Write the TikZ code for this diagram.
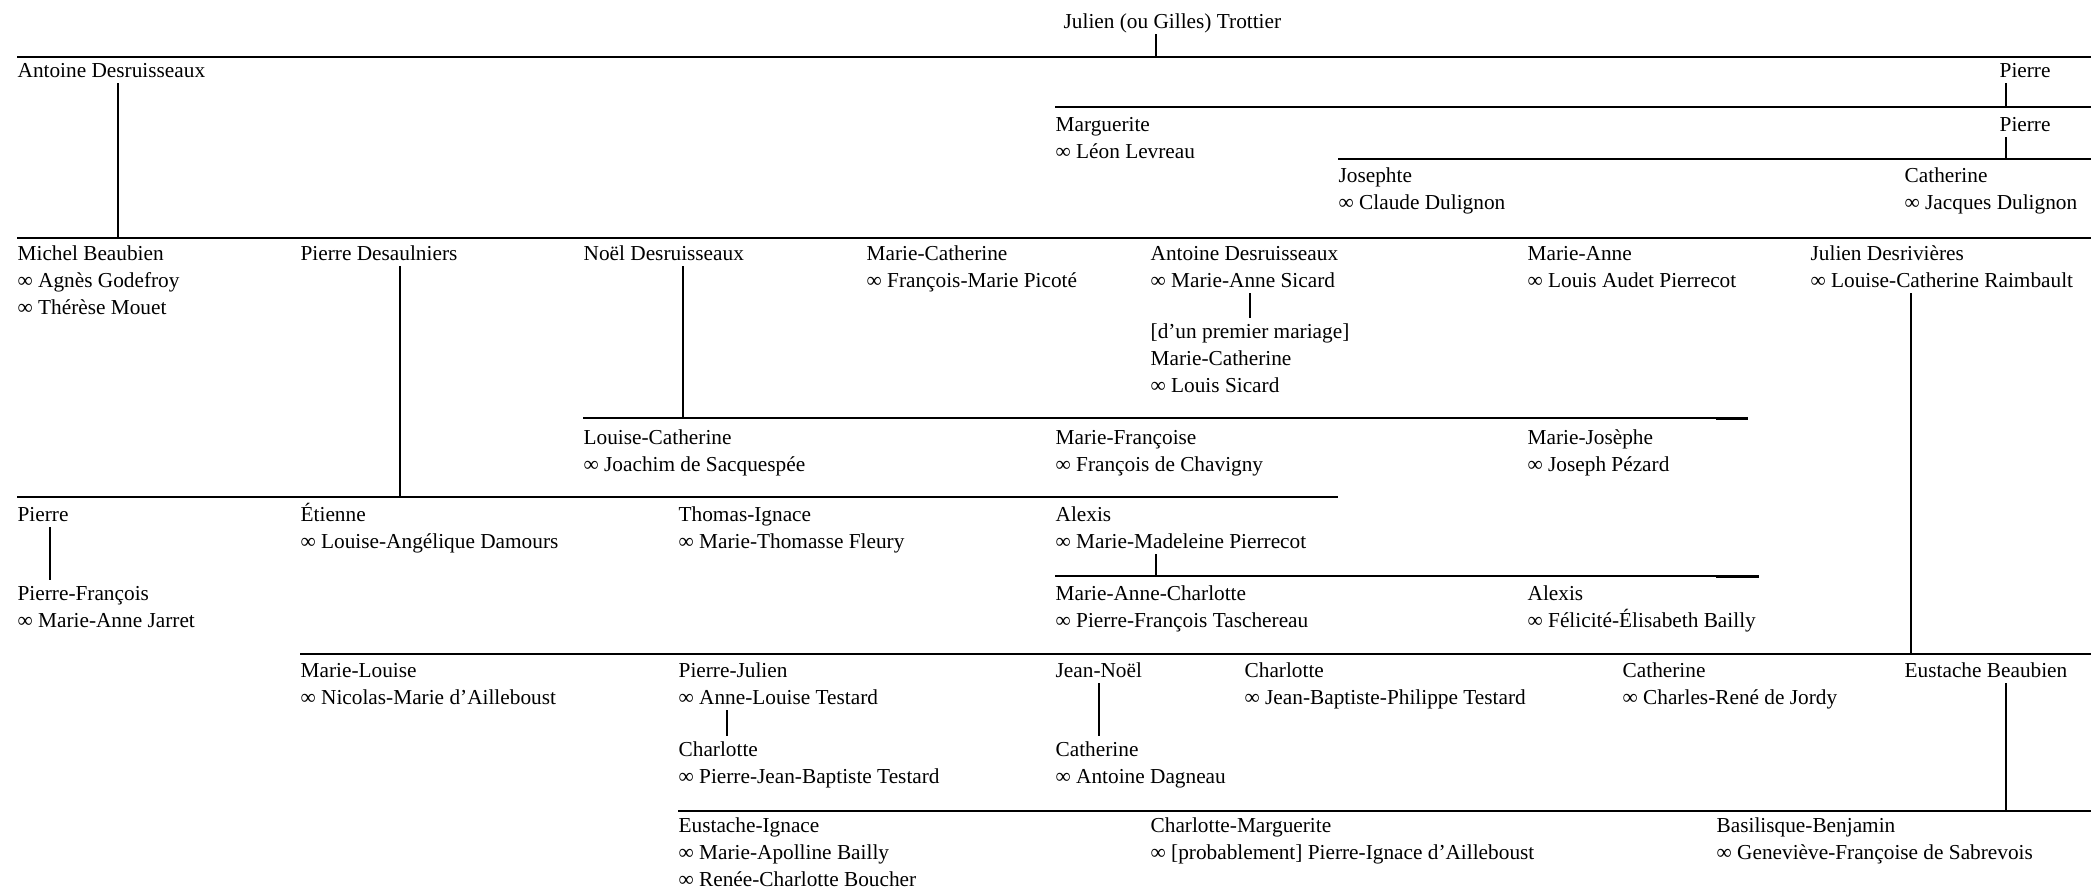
\documentclass[tikz,border=0pt]{standalone}
\usepackage{fontspec}
\setmainfont{Liberation Serif}
\newcommand{\treefont}{\fontsize{21.3}{26.8}\selectfont}
% fixed height for the first line of every name block
\newcommand{\topstrut}{\rule{0pt}{20pt}}

\begin{document}
\begin{tikzpicture}[x=1pt,y=-1pt,line width=1.3pt,
  person/.style={anchor=north west,inner sep=0pt,align=left,font=\treefont,
    execute at end node={\rule[-5pt]{0pt}{5pt}}}]
\useasboundingbox (0,0) rectangle (2091,888);

% generation bars
\coordinate (b1w) at (17,57);    \coordinate (b1e) at (2091,57);
\coordinate (b2w) at (1055,107); \coordinate (b2e) at (2091,107);
\coordinate (b3w) at (1338,159); \coordinate (b3e) at (2091,159);
\coordinate (b4w) at (17,238);   \coordinate (b4e) at (2091,238);
\coordinate (b5w) at (583,418);  \coordinate (b5e) at (1748,418);
\coordinate (b6w) at (17,497);   \coordinate (b6e) at (1338,497);
\coordinate (b7w) at (1055,576); \coordinate (b7e) at (1759,576);
\coordinate (b8w) at (300,654);  \coordinate (b8e) at (2091,654);
\coordinate (b9w) at (678,811);  \coordinate (b9e) at (2091,811);
\foreach \b in {1,...,9}
  \draw (b\b w) -- (b\b e);
% short overstrokes at the ends of two bars
\draw (1716,419.5) -- (b5e |- 0,419.5);
\draw (1716,577.5) -- (b7e |- 0,577.5);

% top
\node[person] (trottier) at (1063,8) {\topstrut Julien (ou Gilles) Trottier};
\node[person] (antoineA) at (17,57) {\topstrut Antoine Desruisseaux};
\node[person] (pierreA) at (1999,57) {\topstrut Pierre};
\node[person] (marguerite) at (1055,111) {\topstrut Marguerite\\∞ Léon Levreau};
\node[person] (pierreB) at (1999,111) {\topstrut Pierre};
\node[person] (josephte) at (1338,162) {\topstrut Josephte\\∞ Claude Dulignon};
\node[person] (catherineA) at (1904,162) {\topstrut Catherine\\∞ Jacques Dulignon};

% row under the long bar
\node[person] (michel) at (17,240) {\topstrut Michel Beaubien\\∞ Agnès Godefroy\\∞ Thérèse Mouet};
\node[person] (desaulniers) at (300,240) {\topstrut Pierre Desaulniers};
\node[person] (noel) at (583,240) {\topstrut Noël Desruisseaux};
\node[person] (mcatherineA) at (866,240) {\topstrut Marie-Catherine\\∞ François-Marie Picoté};
\node[person] (antoineB) at (1150,240) {\topstrut Antoine Desruisseaux\\∞ Marie-Anne Sicard};
\node[person] (marieanne) at (1527,240) {\topstrut Marie-Anne\\∞ Louis Audet Pierrecot};
\node[person] (desrivieres) at (1810,240) {\topstrut Julien Desrivières\\∞ Louise-Catherine Raimbault};
\node[person] (mcatherineB) at (1150,318) {\topstrut [d’un premier mariage]\\Marie-Catherine\\∞ Louis Sicard};

\node[person] (louisecath) at (583,424) {\topstrut Louise-Catherine\\∞ Joachim de Sacquespée};
\node[person] (mfrancoise) at (1055,424) {\topstrut Marie-Françoise\\∞ François de Chavigny};
\node[person] (mjosephe) at (1527,424) {\topstrut Marie-Josèphe\\∞ Joseph Pézard};

\node[person] (pierreC) at (17,501) {\topstrut Pierre};
\node[person] (etienne) at (300,501) {\topstrut Étienne\\∞ Louise-Angélique Damours};
\node[person] (thomas) at (678,501) {\topstrut Thomas-Ignace\\∞ Marie-Thomasse Fleury};
\node[person] (alexisA) at (1055,501) {\topstrut Alexis\\∞ Marie-Madeleine Pierrecot};

\node[person] (pfrancois) at (17,580) {\topstrut Pierre-François\\∞ Marie-Anne Jarret};
\node[person] (manncharlotte) at (1055,580) {\topstrut Marie-Anne-Charlotte\\∞ Pierre-François Taschereau};
\node[person] (alexisB) at (1527,580) {\topstrut Alexis\\∞ Félicité-Élisabeth Bailly};

\node[person] (mlouise) at (300,657) {\topstrut Marie-Louise\\∞ Nicolas-Marie d’Ailleboust};
\node[person] (pjulien) at (678,657) {\topstrut Pierre-Julien\\∞ Anne-Louise Testard};
\node[person] (jeannoel) at (1055,657) {\topstrut Jean-Noël};
\node[person] (charlotteA) at (1244,657) {\topstrut Charlotte\\∞ Jean-Baptiste-Philippe Testard};
\node[person] (catherineB) at (1622,657) {\topstrut Catherine\\∞ Charles-René de Jordy};
\node[person] (eustacheB) at (1904,657) {\topstrut Eustache Beaubien};

\node[person] (charlotteB) at (678,736) {\topstrut Charlotte\\∞ Pierre-Jean-Baptiste Testard};
\node[person] (catherineC) at (1055,736) {\topstrut Catherine\\∞ Antoine Dagneau};

\node[person] (eustacheI) at (678,812) {\topstrut Eustache-Ignace\\∞ Marie-Apolline Bailly\\∞ Renée-Charlotte Boucher};
\node[person] (cmarguerite) at (1150,812) {\topstrut Charlotte-Marguerite\\∞ [probablement] Pierre-Ignace d’Ailleboust};
\node[person] (basilisque) at (1716,812) {\topstrut Basilisque-Benjamin\\∞ Geneviève-Françoise de Sabrevois};

% descent lines
\draw (1156,0 |- trottier.south) -- (1156,0 |- b1w);
\draw (118,0 |- antoineA.south) -- (118,0 |- b4w);
\draw (2006,0 |- pierreA.south) -- (2006,0 |- b2w);
\draw (2006,0 |- pierreB.south) -- (2006,0 |- b3w);
\draw (400,0 |- desaulniers.south) -- (400,0 |- b6w);
\draw (683,0 |- noel.south) -- (683,0 |- b5w);
\draw (1250,0 |- antoineB.south) -- (1250,0 |- mcatherineB.north);
\draw (1911,0 |- desrivieres.south) -- (1911,0 |- b8w);
\draw (50,0 |- pierreC.south) -- (50,0 |- pfrancois.north);
\draw (1156,0 |- alexisA.south) -- (1156,0 |- b7w);
\draw (727,0 |- pjulien.south) -- (727,0 |- charlotteB.north);
\draw (1099,0 |- jeannoel.south) -- (1099,0 |- catherineC.north);
\draw (2006,0 |- eustacheB.south) -- (2006,0 |- b9w);
\end{tikzpicture}
\end{document}
